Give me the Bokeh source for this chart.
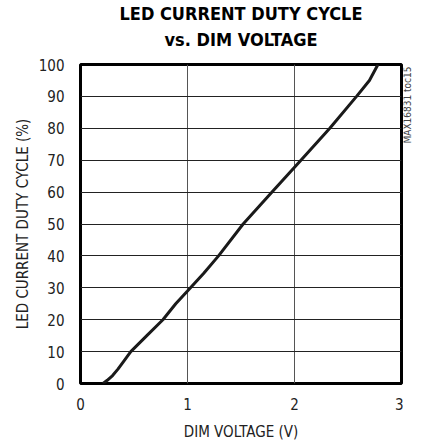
import math
from bokeh.plotting import figure
from bokeh.layouts import row
from bokeh.models import Range1d, FixedTicker, Title, Label
from bokeh.embed import file_html
from bokeh.resources import INLINE

# Data
dim_voltage = [0.21, 0.25, 0.30, 0.35, 0.40, 0.47, 0.62, 0.77, 0.89, 1.00, 1.15, 1.29, 1.52, 1.79, 2.06, 2.33, 2.58, 2.70, 2.78]
duty_cycle = [0, 1, 2.5, 4.5, 6.8, 10, 15, 20, 25, 29, 34.5, 40, 50, 60, 70, 80, 90, 95, 100]
x_ticks = [0, 1, 2, 3]
y_ticks = [0, 10, 20, 30, 40, 50, 60, 70, 80, 90, 100]
title_lines = ["LED CURRENT DUTY CYCLE", "vs. DIM VOLTAGE"]
x_label = "DIM VOLTAGE (V)"
y_label = "LED CURRENT DUTY CYCLE (%)"
side_note = "MAX16831 toc15"

FONT = "DejaVu Sans Condensed"
W_MAIN, W_SIDE, H = 403, 19, 443

p = figure(width=W_MAIN, height=H, output_backend="svg", toolbar_location=None,
           x_range=Range1d(0, 3), y_range=Range1d(0, 100),
           min_border_left=80, min_border_right=2, min_border_top=0, min_border_bottom=30)

p.outline_line_color = "black"
p.outline_line_width = 3

for ax in (p.xaxis[0], p.yaxis[0]):
    ax.axis_line_color = None
    ax.major_tick_line_color = None
    ax.minor_tick_line_color = None
    ax.major_tick_out = 0
    ax.major_tick_in = 0
    ax.minor_tick_out = 0
    ax.major_label_text_font = FONT
    ax.major_label_text_font_size = "15px"
    ax.major_label_text_color = "#222222"
    ax.major_label_text_line_height = 1.0
    ax.axis_label_text_font = FONT
    ax.axis_label_text_font_size = "15px"
    ax.axis_label_text_font_style = "normal"
    ax.axis_label_text_color = "#222222"
    ax.axis_label_text_line_height = 1.0

p.xaxis.ticker = FixedTicker(ticks=x_ticks)
p.yaxis.ticker = FixedTicker(ticks=y_ticks)
p.xaxis.axis_label = x_label
p.yaxis.axis_label = y_label
p.xaxis.major_label_standoff = 14
p.yaxis.major_label_standoff = 16
p.xaxis.axis_label_standoff = 10
p.yaxis.axis_label_standoff = 4

p.xgrid.ticker = FixedTicker(ticks=x_ticks)
p.ygrid.ticker = FixedTicker(ticks=y_ticks)
p.xgrid.grid_line_color = "#555555"
p.ygrid.grid_line_color = "#222222"
p.grid.grid_line_width = 1
p.grid.grid_line_alpha = 1.0

p.line(dim_voltage, duty_cycle, line_color="#1a1a1a", line_width=3)

# two-line title (first added sits closest to the plot)
p.add_layout(Title(text=" ", text_font=FONT, text_font_size="8px", standoff=0), "above")
p.add_layout(Title(text=title_lines[1], align="center", text_font=FONT, text_font_style="bold",
                   text_font_size="18px", text_color="black", standoff=7), "above")
p.add_layout(Title(text=title_lines[0], align="center", text_font=FONT, text_font_style="bold",
                   text_font_size="18px", text_color="black", standoff=0), "above")

# narrow strip on the right holding the rotated side note (shares the y scale)
s = figure(width=W_SIDE, height=H, output_backend="svg", toolbar_location=None,
           x_range=Range1d(0, W_SIDE), y_range=p.y_range,
           x_axis_type=None, y_axis_type=None,
           min_border_left=0, min_border_right=0, min_border_top=0, min_border_bottom=0)
s.outline_line_color = None
s.grid.visible = False
s.add_layout(Label(x=4, y=y_ticks[-1], y_offset=-2, text=side_note, angle=math.pi / 2,
                   text_align="right", text_baseline="middle", text_font=FONT,
                   text_font_size="10px", text_color="#444444"))

layout = row(p, s, spacing=0)
open("out.html", "w").write(file_html(layout, INLINE))
